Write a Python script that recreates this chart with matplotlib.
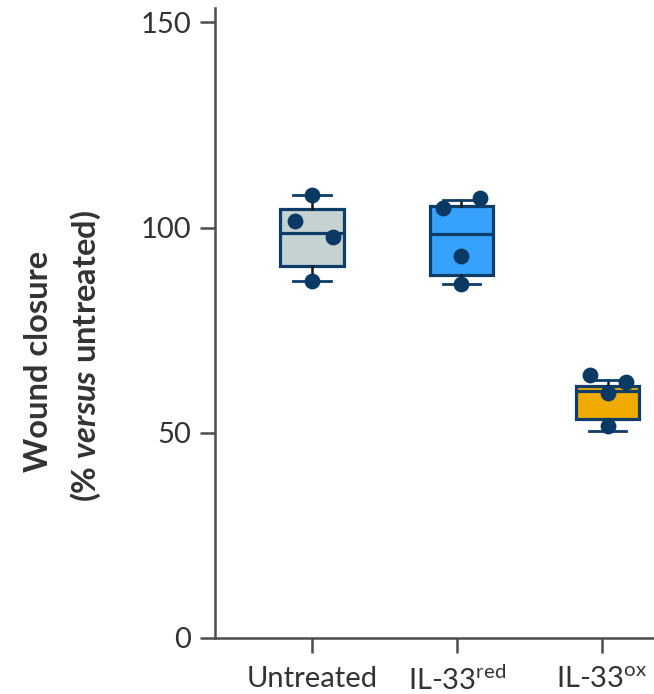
import matplotlib
matplotlib.use("Agg")
import matplotlib.pyplot as plt

plt.rcParams['font.family'] = ['Lato', 'DejaVu Sans']
plt.rcParams['mathtext.fontset'] = 'custom'
plt.rcParams['mathtext.rm'] = 'Lato'
plt.rcParams['mathtext.it'] = 'Lato:italic'
plt.rcParams['mathtext.bf'] = 'Lato:bold'
plt.rcParams['mathtext.bfit'] = 'Lato:bold:italic'

# ---- data ----
groups = ["Untreated", "IL-33red", "IL-33ox"]
tick_labels = ["Untreated", r"IL-33$^{\mathrm{red}}$", r"IL-33$^{\mathrm{ox}}$"]
untreated_pts = [108.0, 101.5, 97.6, 87.1]
il33red_pts = [107.2, 104.9, 93.0, 86.3]
il33ox_pts = [64.2, 62.3, 59.7, 51.6]
# box statistics: whislo, q1, median, q3, whishi
whislo = [87.1, 86.3, 50.5]
q1 = [90.7, 88.5, 53.4]
med = [98.7, 98.4, 60.3]
q3 = [104.6, 105.2, 61.3]
whishi = [108.0, 106.7, 62.9]
y_ticks = [0, 50, 100, 150]

# ---- layout / style ----
box_pos = [1.0, 2.03, 3.04]
pt_offsets = [[0.0, -0.12, 0.14, 0.0],
              [0.13, -0.125, 0.0, 0.0],
              [-0.124, 0.129, 0.0, 0.0]]
fills = ["#c6d1d1", "#36a2fc", "#f0aa00"]
navy = "#0e3d67"
pt_color = "#0a3a63"
txt = "#333333"
spine_c = "#4d4d4d"

fig = plt.figure(figsize=(6.54, 6.94), dpi=100)
ax = fig.add_axes([215/654, 56/694, 1 - 215/654, (638.3 - 8)/694])

stats = []
for i, g in enumerate(groups):
    stats.append(dict(label=g, whislo=whislo[i], q1=q1[i], med=med[i],
                      q3=q3[i], whishi=whishi[i], fliers=[]))

bp = ax.bxp(stats, positions=box_pos, widths=0.44, capwidths=0.26,
            patch_artist=True, showfliers=False,
            boxprops=dict(linewidth=2.3, edgecolor=navy),
            medianprops=dict(color=navy, linewidth=2.3),
            whiskerprops=dict(color="#151515", linewidth=1.8),
            capprops=dict(color=navy, linewidth=2.0),
            manage_ticks=False)
for patch, fc in zip(bp['boxes'], fills):
    patch.set_facecolor(fc)

all_pts = [untreated_pts, il33red_pts, il33ox_pts]
for i, pts in enumerate(all_pts):
    xs = [box_pos[i] + o for o in pt_offsets[i]]
    ax.scatter(xs, pts, s=130, color=pt_color, zorder=5, linewidths=0)

ax.set_xlim(0.3276, 3.361)
ax.set_ylim(0, 153.6)
ax.set_xticks([1, 2, 3])
ax.set_xticklabels(tick_labels, fontsize=21, color=txt)
ax.set_yticks(y_ticks)
ax.set_yticklabels([str(v) for v in y_ticks], fontsize=21, color=txt)
ax.tick_params(axis='both', length=11, width=1.8, color=spine_c)
ax.tick_params(axis='x', pad=9)
ax.tick_params(axis='y', pad=6)
for s in ['top', 'right']:
    ax.spines[s].set_visible(False)
for s in ['left', 'bottom']:
    ax.spines[s].set_color(spine_c)
    ax.spines[s].set_linewidth(1.8)

fig.text(39/654, 1 - 361/694, "Wound closure", rotation=90, ha='center',
         va='center', fontsize=23.5, fontweight='bold', color=txt)
fig.text(86/654, 1 - 356/694, r"(% $\mathbfit{versus}$ untreated)", rotation=90,
         ha='center', va='center', fontsize=23.5, fontweight='bold', color=txt)

fig.savefig("out.png", dpi=100)
